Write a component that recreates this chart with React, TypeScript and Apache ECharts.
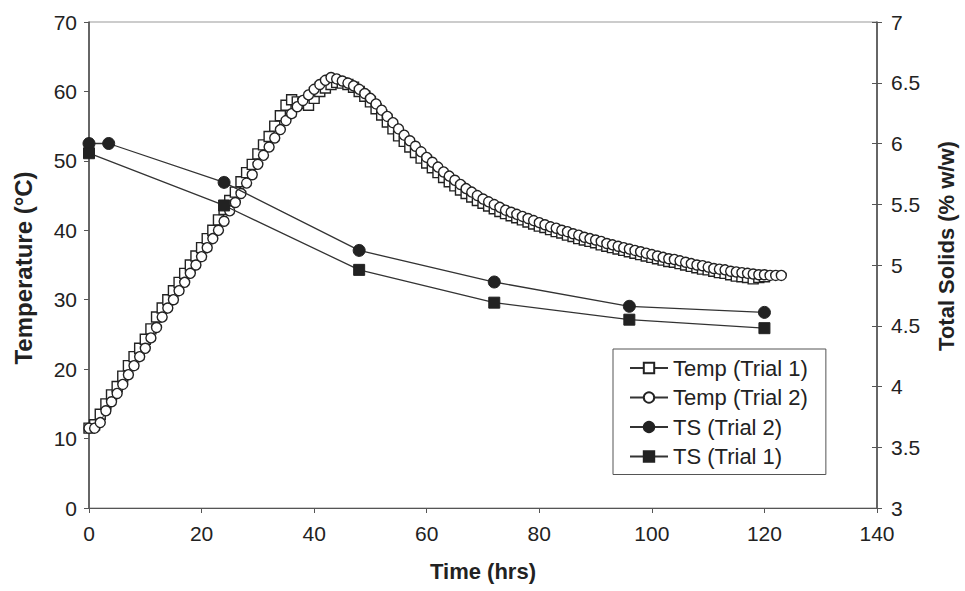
import React, { useEffect, useRef } from "react";
import * as echarts from "echarts";

// Hourly temperature readings (°C), starting at t = 0 h
const tempSampleIntervalHrs = 1;
const tempTrial1 = [
  11.5, 12.0, 13.5, 15.0, 16.3, 17.5, 19.0, 20.5, 21.8, 23.0,
  24.3, 25.8, 27.5, 28.8, 30.0, 31.3, 32.5, 33.8, 35.0, 36.3,
  37.5, 38.8, 40.0, 41.5, 43.0, 44.3, 45.5, 47.0, 48.3, 49.5,
  51.0, 52.3, 53.5, 55.0, 56.5, 58.0, 58.8, 58.5, 58.3, 58.0,
  59.0, 60.0, 60.5, 61.0, 61.3, 61.2, 61.0, 60.6, 60.0, 59.3,
  58.5, 57.5, 56.6, 55.6, 54.6, 53.6, 52.8, 52.0, 51.2, 50.4,
  49.7, 49.0, 48.3, 47.6, 47.0, 46.4, 45.8, 45.3, 44.8, 44.3,
  43.9, 43.5, 43.1, 42.7, 42.4, 42.1, 41.8, 41.5, 41.2, 40.9,
  40.6, 40.4, 40.1, 39.8, 39.6, 39.3, 39.1, 38.8, 38.6, 38.4,
  38.2, 37.9, 37.7, 37.5, 37.3, 37.1, 36.9, 36.7, 36.5, 36.3,
  36.1, 35.9, 35.7, 35.5, 35.4, 35.2, 35.0, 34.8, 34.6, 34.4,
  34.3, 34.1, 33.9, 33.8, 33.6, 33.4, 33.3, 33.2, 33.0, 33.2,
  33.3,
];
const tempTrial2 = [
  11.5, 11.5, 12.3, 14.0, 15.3, 16.5, 17.8, 19.2, 20.5, 21.8,
  23.0, 24.5, 26.0, 27.5, 28.8, 30.0, 31.3, 32.5, 33.8, 35.0,
  36.2, 37.5, 38.8, 40.0, 41.3, 42.8, 44.0, 45.3, 46.8, 48.0,
  49.5, 50.8, 52.0, 53.3, 54.5, 55.8, 56.8, 57.8, 58.7, 59.5,
  60.3, 61.0, 61.6, 62.0, 61.8, 61.5, 61.2, 60.8, 60.3, 59.7,
  59.0, 58.2, 57.3, 56.4, 55.5, 54.6, 53.7, 52.9, 52.1, 51.3,
  50.5, 49.8, 49.1, 48.4, 47.8, 47.2, 46.6, 46.0, 45.5, 45.0,
  44.5, 44.1, 43.7, 43.3, 42.9, 42.6, 42.3, 42.0, 41.7, 41.4,
  41.1, 40.8, 40.5, 40.3, 40.0, 39.8, 39.5, 39.3, 39.0, 38.8,
  38.6, 38.4, 38.1, 37.9, 37.7, 37.5, 37.3, 37.1, 36.9, 36.7,
  36.5, 36.3, 36.1, 35.9, 35.8, 35.6, 35.4, 35.2, 35.0, 34.9,
  34.7, 34.5, 34.4, 34.3, 34.1, 34.0, 33.9, 33.8, 33.7, 33.6,
  33.6, 33.5, 33.5, 33.5,
];

// Total solids (% w/w)
const tsTrial2Times = [0, 3.5, 24, 48, 72, 96, 120];
const tsTrial2 = [6.0, 6.0, 5.68, 5.12, 4.86, 4.66, 4.61];
const tsTrial1Times = [0, 24, 48, 72, 96, 120];
const tsTrial1 = [5.92, 5.49, 4.96, 4.69, 4.55, 4.48];

const seriesNames = ["Temp (Trial 1)", "Temp (Trial 2)", "TS (Trial 2)", "TS (Trial 1)"];
const xTitle = "Time (hrs)";
const yLeftTitle = "Temperature (°C)";
const yRightTitle = "Total Solids (% w/w)";

const FONT = "'Liberation Sans', Arial, Helvetica, sans-serif";
const INK = "#222";

export default function App() {
  const ref = useRef<HTMLDivElement>(null);

  useEffect(() => {
    if (!ref.current) return;
    const chart = echarts.init(ref.current, undefined, { renderer: "svg" });

    const t1 = tempTrial1.map((v, i) => [i * tempSampleIntervalHrs, v]);
    const t2 = tempTrial2.map((v, i) => [i * tempSampleIntervalHrs, v]);
    const s2 = tsTrial2.map((v, i) => [tsTrial2Times[i], v]);
    const s1 = tsTrial1.map((v, i) => [tsTrial1Times[i], v]);

    const axisLabel = { color: INK, fontFamily: FONT, fontSize: 21 };
    const nameStyle = { color: INK, fontFamily: FONT, fontSize: 22, fontWeight: "bold" as const };

    chart.setOption({
      animation: false,
      backgroundColor: "#fff",
      textStyle: { fontFamily: FONT },
      grid: {
        left: 89,
        right: 85,
        top: 22,
        bottom: 83,
        show: true,
        borderColor: "#999",
        borderWidth: 1,
      },
      legend: {
        left: 613,
        top: 349,
        orient: "vertical",
        itemWidth: 38,
        itemHeight: 13,
        itemGap: 7.5,
        padding: [8, 18, 7, 16],
        borderColor: "#555",
        borderWidth: 1,
        backgroundColor: "#fff",
        data: seriesNames,
        textStyle: { color: INK, fontFamily: FONT, fontSize: 22, lineHeight: 22 },
      },
      xAxis: {
        type: "value",
        min: 0,
        max: 140,
        interval: 20,
        name: xTitle,
        nameLocation: "middle",
        nameGap: 52,
        nameTextStyle: nameStyle,
        axisLine: { lineStyle: { color: "#555", width: 1 } },
        axisTick: { show: true, inside: false, length: 5, lineStyle: { color: "#555" } },
        axisLabel: { ...axisLabel, margin: 15 },
        splitLine: { show: false },
      },
      yAxis: [
        {
          type: "value",
          min: 0,
          max: 70,
          interval: 10,
          position: "left",
          name: yLeftTitle,
          nameLocation: "middle",
          nameRotate: 90,
          nameGap: 54,
          nameTextStyle: { ...nameStyle, fontSize: 24, padding: [0, 6, 0, 0] },
          axisLine: { show: true, lineStyle: { color: "#444", width: 1.5 } },
          axisTick: { show: true, inside: false, length: 5, lineStyle: { color: "#555" } },
          axisLabel: { ...axisLabel, margin: 12 },
          splitLine: { show: false },
        },
        {
          type: "value",
          min: 3,
          max: 7,
          interval: 0.5,
          position: "right",
          name: yRightTitle,
          nameLocation: "middle",
          nameRotate: 90,
          nameGap: 58,
          nameTextStyle: { ...nameStyle, padding: [0, 0, 0, 38] },
          axisLine: { show: true, lineStyle: { color: "#444", width: 1.5 } },
          axisTick: { show: true, inside: false, length: 5, lineStyle: { color: "#555" } },
          axisLabel: { ...axisLabel, margin: 14 },
          splitLine: { show: false },
        },
        {
          type: "value",
          min: 3,
          max: 7,
          interval: 0.5,
          position: "right",
          axisLine: { show: false },
          axisTick: { show: true, inside: true, length: 5, lineStyle: { color: "#555" } },
          axisLabel: { show: false },
          splitLine: { show: false },
        },
      ],
      series: [
        {
          name: seriesNames[0],
          type: "line",
          yAxisIndex: 0,
          data: t1,
          symbol: "rect",
          symbolSize: 10,
          showAllSymbol: true,
          lineStyle: { color: "#333", width: 1 },
          itemStyle: { color: "#fff", borderColor: "#222", borderWidth: 1.4 },
          z: 2,
        },
        {
          name: seriesNames[1],
          type: "line",
          yAxisIndex: 0,
          data: t2,
          symbol: "circle",
          symbolSize: 10,
          showAllSymbol: true,
          lineStyle: { color: "#333", width: 1 },
          itemStyle: { color: "#fff", borderColor: "#222", borderWidth: 1.4 },
          z: 3,
        },
        {
          name: seriesNames[2],
          type: "line",
          yAxisIndex: 1,
          data: s2,
          symbol: "circle",
          symbolSize: 12,
          lineStyle: { color: "#333", width: 1.3 },
          itemStyle: { color: "#222", borderColor: "#222", borderWidth: 1 },
          z: 4,
        },
        {
          name: seriesNames[3],
          type: "line",
          yAxisIndex: 1,
          data: s1,
          symbol: "rect",
          symbolSize: 11,
          lineStyle: { color: "#333", width: 1.3 },
          itemStyle: { color: "#222", borderColor: "#222", borderWidth: 1 },
          z: 5,
        },
      ],
    });

    return () => chart.dispose();
  }, []);

  return (
    <div
      ref={ref}
      style={{ position: "fixed", left: 0, top: 0, width: 965, height: 591, background: "#fff" }}
    />
  );
}
